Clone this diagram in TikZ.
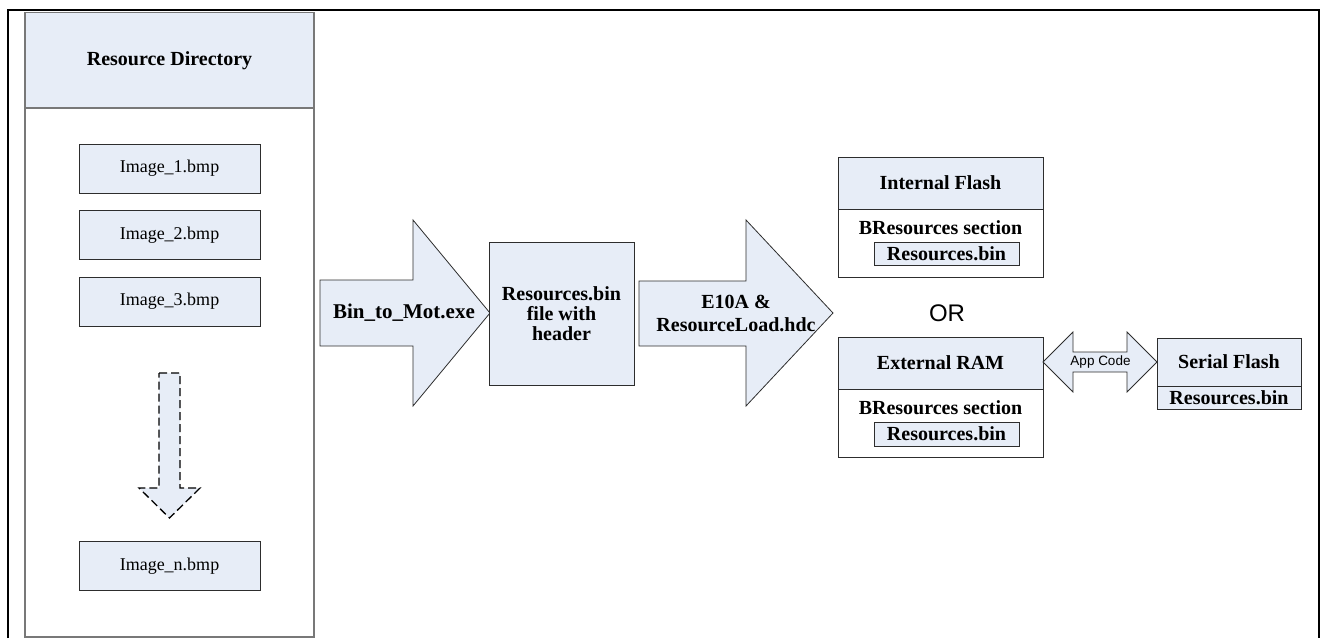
\documentclass[tikz,border=0pt]{standalone}
\usepackage{fontspec}
\setmainfont{Liberation Serif}
\newfontfamily\arialfont{Liberation Sans}
\definecolor{boxfill}{RGB}{231,237,247}
\definecolor{boxline}{RGB}{45,45,45}
\definecolor{dirline}{RGB}{120,120,120}
\begin{document}
\begin{tikzpicture}[x=1pt,y=-1pt,
  every node/.style={inner sep=0pt, outer sep=0pt},
  txt/.style={font=\fontsize{18}{20}\selectfont},
  btxt/.style={font=\bfseries\fontsize{20}{20}\selectfont},
  filebox/.style={draw=boxline, fill=boxfill, line width=0.9pt, txt,
    minimum width=181pt, minimum height=49pt},
  hdrbox/.style={draw=boxline, fill=boxfill, line width=0.9pt, btxt},
  bodybox/.style={draw=boxline, fill=white, line width=0.9pt},
  blockarrow/.style={draw=boxline, fill=boxfill, line width=0.8pt, line join=miter},
]
\useasboundingbox (0,0) rectangle (1324,638);

% outer frame
\draw[line width=2pt] (8,638) -- (8,10) -- (1319,10) -- (1319,638);

% resource directory column
\node[draw=dirline, fill=boxfill, line width=1.2pt, btxt,
  minimum width=289pt, minimum height=95.5pt] (dir) at (169.5,60.25) {Resource Directory};
\node[draw=dirline, fill=white, line width=1.2pt, anchor=north,
  minimum width=289pt, minimum height=529pt] (dirbody) at (dir.south) {};

\node[filebox] (img1) at (169.5,168.5) {Image\_1.bmp};
\node[filebox] (img2) at (169.5,235) {Image\_2.bmp};
\node[filebox] (img3) at (169.5,301.5) {Image\_3.bmp};
\node[filebox] (imgn) at (169.5,566) {Image\_n.bmp};

% dashed "and so on" arrow
\draw[fill=boxfill, line width=1.3pt, dash pattern=on 8pt off 4pt, line join=miter]
  (159,373) -- (180,373) -- (180,488) -- (200,488) -- (169.5,518)
  -- (139,488) -- (159,488) -- cycle;

% conversion step
\draw[blockarrow] (320,280) -- (413,280) -- (413,220) -- (490,313)
  -- (413,406) -- (413,346) -- (320,346) -- cycle;
\node[font=\bfseries\fontsize{21}{21}\selectfont] (conv) at (404,313) {Bin\_to\_Mot.exe};

\node[hdrbox, align=center, minimum width=145pt, minimum height=143pt]
  (resbin) at (561.5,313.5) {Resources.bin\\file with\\header};

% download step
\draw[blockarrow] (639,281) -- (746,281) -- (746,220) -- (833,313)
  -- (746,406) -- (746,346) -- (639,346) -- cycle;
\node[font=\bfseries\fontsize{20}{23}\selectfont, align=center] (load) at (736,313.5)
  {E10A \&\\ResourceLoad.hdc};

% internal flash target
\node[hdrbox, minimum width=205pt, minimum height=52pt] (iflash) at (940.5,183) {Internal Flash};
\node[bodybox, anchor=north, minimum width=205pt, minimum height=68pt] (iflashbody) at (iflash.south) {};
\node[btxt] (isec) at (940.5,228) {BResources section};
\node[hdrbox, minimum width=145pt, minimum height=23pt] (ires) at (946.5,253.5) {Resources.bin};

\node[font=\arialfont\fontsize{24}{24}\selectfont] (or) at (947,313) {OR};

% external RAM target
\node[hdrbox, minimum width=205pt, minimum height=52pt] (eram) at (940.5,363) {External RAM};
\node[bodybox, anchor=north, minimum width=205pt, minimum height=68pt] (erambody) at (eram.south) {};
\node[btxt] (esec) at (940.5,408) {BResources section};
\node[hdrbox, minimum width=145pt, minimum height=24pt] (eres) at (946.5,434) {Resources.bin};

% serial flash
\node[hdrbox, minimum width=144pt, minimum height=48pt] (sflash) at (1229,362) {Serial Flash};
\node[hdrbox, anchor=north, minimum width=144pt, minimum height=23pt] (sres) at (sflash.south) {Resources.bin};

% application code link between RAM and serial flash
\draw[blockarrow] (eram.east |- 0,362) -- (1073,332) -- (1073,352) -- (1127,352)
  -- (1127,332) -- (sflash.west) -- (1127,392) -- (1127,372) -- (1073,372)
  -- (1073,392) -- cycle;
\node[font=\arialfont\fontsize{13.5}{14}\selectfont] (app) at (1100.5,362) {App Code};
\end{tikzpicture}
\end{document}
